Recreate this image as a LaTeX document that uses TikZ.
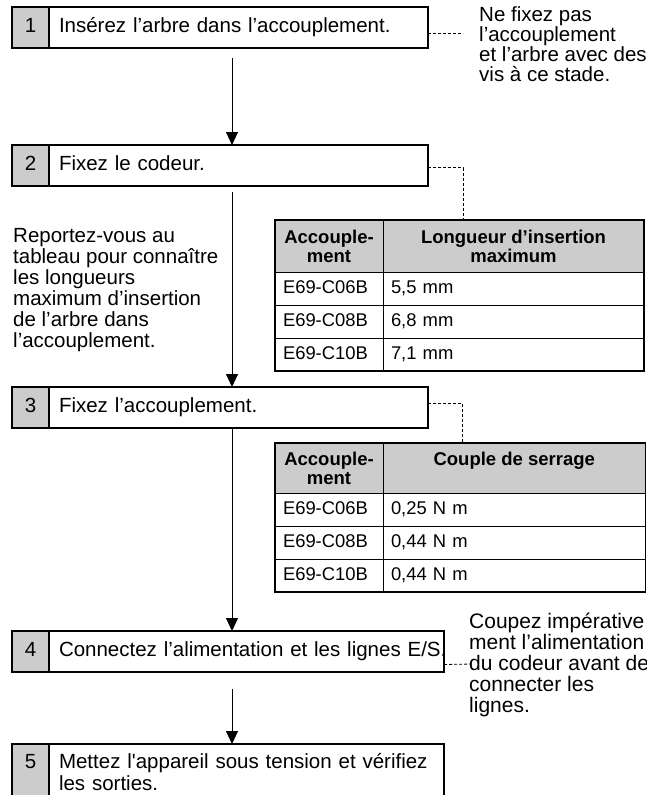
\documentclass[tikz,border=0pt]{standalone}
\usepackage{fontspec}
\setmainfont{Liberation Sans}
\newcommand{\stepfont}{\fontsize{20.5}{22}\selectfont}
\newcommand{\notefont}{\fontsize{20.5}{21}\selectfont}
\newcommand{\notefontA}{\fontsize{20.5}{20}\selectfont}
\newcommand{\notefontB}{\fontsize{21}{21}\selectfont}
\newcommand{\tabheadfont}{\bfseries\fontsize{18.5}{19}\selectfont}
\newcommand{\tabcellfont}{\fontsize{18.4}{19}\selectfont}
\usetikzlibrary{arrows.meta,positioning}

\begin{document}
\begin{tikzpicture}[x=1pt,y=-1pt,
	node distance=0pt,
	>={Triangle[width=12pt,length=13pt]},
	numbox/.style={rectangle,draw,line width=1.4pt,outer sep=0pt,fill=gray!40,minimum width=37pt,minimum height=41pt,inner sep=0pt,font=\stepfont},
	stepbox/.style={rectangle,draw,line width=1.4pt,outer sep=0pt,minimum height=41pt,inner xsep=10pt,inner ysep=0pt,align=left,font=\stepfont},
	oneline/.style={text height=15pt,text depth=4.5pt},
	twoline/.style={minimum height=60pt,text height=15pt,text depth=26.5pt},
	notetext/.style={inner sep=0pt,align=left,anchor=base west},
	headcell/.style={rectangle,draw,line width=0.8pt,outer sep=0pt,fill=gray!40,inner sep=0pt,align=center,font=\tabheadfont},
	bodycell/.style={rectangle,draw,line width=0.8pt,outer sep=0pt,minimum height=33pt,inner xsep=8pt,inner ysep=0pt,text height=13.5pt,text depth=3pt,align=left,font=\tabcellfont},
	tableframe/.style={draw,line width=1.6pt},
	dashline/.style={draw,line width=0.8pt,dash pattern=on 3pt off 2pt},
	flow/.style={->,line width=0.9pt}]
	\useasboundingbox (0,0) rectangle (647,795);
	\clip (0,0) rectangle (647,795);
	% steps
	\node [numbox,oneline,anchor=north west]		(num1)	at (12,7)			{1};
	\node [stepbox,oneline,text width=359pt]		(step1)	[right=of num1]	{Insérez l’arbre dans l’accouplement.};
	\node [numbox,oneline]		(num2)	[below=97pt of num1]	{2};
	\node [stepbox,oneline,text width=359pt]		(step2)	[right=of num2]	{Fixez le codeur.};
	\node [numbox,oneline]		(num3)	[below=201pt of num2]	{3};
	\node [stepbox,oneline,text width=359pt]		(step3)	[right=of num3]	{Fixez l’accouplement.};
	\node [numbox,oneline]		(num4)	[below=203pt of num3]	{4};
	\node [stepbox,oneline,text width=375pt]		(step4)	[right=of num4]	{\mbox{Connectez l’alimentation et les lignes E/S.}};
	\node [numbox,twoline]		(num5)	[below=72pt of num4]	{5};
	\node [stepbox,twoline,text width=375pt]		(step5)	[right=of num5]	{Mettez l\textquotesingle appareil sous tension et vérifiez\\les sorties.};
	\coordinate (axis) at (232,0);
	\path [flow]
	(step1.south -| axis) edge [shorten <=10pt]	(step2.north -| axis)
	(step2.south -| axis) edge [shorten <=6pt]	(step3.north -| axis)
	(step3.south -| axis) edge					(step4.north -| axis)
	(step4.south -| axis) edge [shorten <=17pt]	(step5.north -| axis)
	;
	% table: insertion length
	\node [headcell,minimum width=108pt,minimum height=52pt,anchor=north west]	(t1ha)	at (275,220)	{Accouple-\\ment};
	\node [headcell,minimum width=261pt,minimum height=52pt]	(t1hb)	[right=of t1ha]	{Longueur d’insertion\\maximum};
	\node [bodycell,text width=92pt]	(t1r1a)	[below=of t1ha]		{E69-C06B};
	\node [bodycell,text width=245pt]	(t1r1b)	[right=of t1r1a]	{5,5 mm};
	\node [bodycell,text width=92pt]	(t1r2a)	[below=of t1r1a]	{E69-C08B};
	\node [bodycell,text width=245pt]	(t1r2b)	[right=of t1r2a]	{6,8 mm};
	\node [bodycell,text width=92pt]	(t1r3a)	[below=of t1r2a]	{E69-C10B};
	\node [bodycell,text width=245pt]	(t1r3b)	[right=of t1r3a]	{7,1 mm};
	\draw [tableframe] (t1ha.north west) rectangle (t1r3b.south east);
	% table: tightening torque
	\node [headcell,minimum width=108pt,minimum height=50pt,anchor=north west]	(t2ha)	at (275,443)	{Accouple-\\ment};
	\node [headcell,minimum width=262.5pt,minimum height=50pt,text depth=19pt]	(t2hb)	[right=of t2ha]	{Couple de serrage};
	\node [bodycell,text width=92pt]	(t2r1a)	[below=of t2ha]		{E69-C06B};
	\node [bodycell,text width=246.5pt]	(t2r1b)	[right=of t2r1a]	{0,25 N m};
	\node [bodycell,text width=92pt]	(t2r2a)	[below=of t2r1a]	{E69-C08B};
	\node [bodycell,text width=246.5pt]	(t2r2b)	[right=of t2r2a]	{0,44 N m};
	\node [bodycell,text width=92pt]	(t2r3a)	[below=of t2r2a]	{E69-C10B};
	\node [bodycell,text width=246.5pt]	(t2r3b)	[right=of t2r3a]	{0,44 N m};
	\draw [tableframe] (t2ha.north west) rectangle (t2r3b.south east);
	% notes (anchored on the baseline of their last line)
	\node [notetext,font=\notefontA]	(note1)	at (479,81)	{Ne fixez pas\\l’accouplement\\et l’arbre avec des\\vis à ce stade.};
	\node [notetext,font=\notefont]	(note2)	at (13,347)	{Reportez-vous au\\tableau pour connaître\\les longueurs\\maximum d’insertion\\de l’arbre dans\\l’accouplement.};
	\node [notetext,font=\notefontB]	(note3)	at (469,712)	{Coupez impérative\\ment l’alimentation\\du codeur avant de\\connecter les\\lignes.};
	\coordinate (gap1) at (463,33);
	\coordinate (gap4) at (473,664);
	\draw [dashline] ([yshift=-5.5pt]step1.east) -- (gap1);
	\draw [dashline] ([yshift=-2pt]step2.east) -| ([xshift=80pt]t1hb.north west);
	\draw [dashline] ([yshift=4.5pt]step3.east) -| ([xshift=79pt]t2hb.north west);
	\draw [dashline] ([yshift=-13pt]step4.east) -- (gap4);
\end{tikzpicture}
\end{document}
